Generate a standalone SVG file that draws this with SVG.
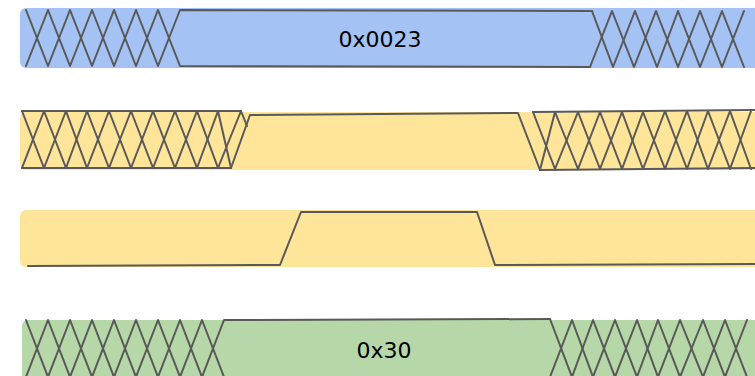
<svg xmlns="http://www.w3.org/2000/svg" width="755" height="376" viewBox="0 0 755 376">
<style>
.ln{fill:none;stroke:#595959;stroke-width:2;stroke-linejoin:round;stroke-linecap:round}
.t{font-family:"DejaVu Sans",sans-serif;font-size:22px;fill:#000;text-anchor:middle}
</style>
<g id="row1">
<rect x="20" y="8" width="745" height="60" rx="6" fill="#a4c2f4"/>
<polyline class="ln" points="26,10 48,66 70,10 92,66 114,10 136,66 158,10 180,66 590,67"/>
<polyline class="ln" points="26,66 48,10 70,66 92,10 114,66 136,10 158,66 180,10 592,11"/>
<polyline class="ln" points="592,11 613,67 635,11 657,67 678,11 700,67 722,11 744,67"/>
<polyline class="ln" points="590,67 612,11 634,67 656,11 678,67 700,11 722,67 744,11"/>
<text class="t" x="380" y="47">0x0023</text>
</g>
<g id="row2">
<rect x="20" y="112" width="745" height="58" rx="6" fill="#ffe599"/>
<polyline class="ln" points="22,111 241,111"/>
<polyline class="ln" points="22,168 231,168"/>
<polyline class="ln" points="22,111 44,168 66,111 87,168 109,111 131,168 153,111 175,168 197,111 218,168 241,111"/>
<polyline class="ln" points="22,168 44,111 66,168 87,111 109,168 131,111 153,168 175,111 197,168 218,111 231,168"/>
<polyline class="ln" points="241,111 247,126"/>
<polyline class="ln" points="231,168 250,115 518,113 540,170"/>
<polyline class="ln" points="533,112 755,110"/>
<polyline class="ln" points="540,170 755,168"/>
<polyline class="ln" points="533,112 555,169 578,112 600,169 622,112 643,169 665,111 687,169 708,111 730,169 751,111"/>
<polyline class="ln" points="540,170 555,112 578,169 600,112 622,169 643,112 665,169 687,111 708,169 730,111 751,169"/>
</g>
<g id="row3">
<rect x="20" y="210" width="745" height="57" rx="6" fill="#ffe599"/>
<polyline class="ln" points="28,266 280,265 301,212 477,212 495,265 755,264"/>
</g>
<g id="row4">
<rect x="22" y="320" width="743" height="66" rx="6" fill="#b6d7a8"/>
<polyline class="ln" points="26,320 48,377 70,320 92,377 114,320 136,377 158,320 180,377 202,320 224,377"/>
<polyline class="ln" points="26,377 48,320 70,377 92,320 114,377 136,320 158,377 180,320 202,377 224,320 550,319"/>
<polyline class="ln" points="550,319 572,377 593,320 615,377 637,320 658,377 680,320 703,377 725,320 747,377"/>
<polyline class="ln" points="550,377 572,320 593,377 615,320 637,377 658,320 680,377 703,320 725,377 747,320"/>
<text class="t" x="384" y="358">0x30</text>
</g>
<g id="connectors"/>
</svg>
